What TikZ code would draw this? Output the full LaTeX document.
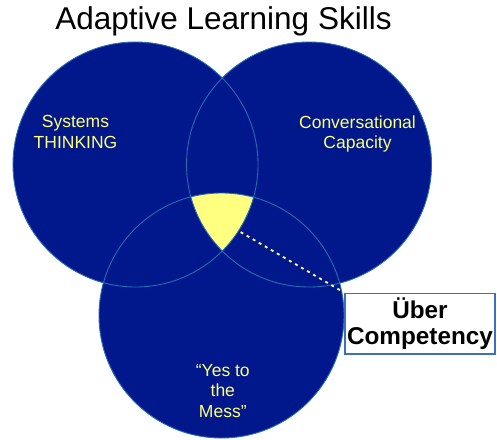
\documentclass[tikz,border=0pt]{standalone}
\usepackage{fontspec}
\setmainfont{Liberation Sans}
\definecolor{setnavy}{RGB}{0,24,140}
\definecolor{setrim}{RGB}{38,110,180}
\definecolor{coreyellow}{RGB}{255,255,128}
\definecolor{labelyellow}{RGB}{255,255,120}
\definecolor{boxblue}{RGB}{60,112,190}
\begin{document}
\begin{tikzpicture}[x=1pt,y=-1pt,
  setdisc/.style={fill=setnavy},
  setedge/.style={draw=setrim, line width=0.9pt},
  setlabel/.style={text=labelyellow, font=\fontsize{17.5}{20.5}\selectfont, align=center, inner sep=0pt},
  calloutbox/.style={draw=boxblue, line width=1.2pt, fill=white, minimum width=150pt,
    minimum height=60.7pt, inner sep=0pt, align=center,
    font=\fontsize{24.3}{26.7}\selectfont\bfseries},
  leader/.style={draw=coreyellow, line width=1.8pt, dash pattern=on 3pt off 4pt}]
\useasboundingbox (0,0) rectangle (497,439);
\fill[white] (0,0) rectangle (497,439);

% centres of the three skill sets
\coordinate (L) at (135.5,164.5);
\coordinate (R) at (309,164.5);
\coordinate (B) at (221.5,315.5);

% filled discs
\fill[setdisc] (L) circle[radius=122.5pt];
\fill[setdisc] (R) circle[radius=122.5pt];
\fill[setdisc] (B) circle[radius=122.5pt];

% common region of all three sets
\begin{scope}
  \clip (L) circle[radius=122.5pt];
  \clip (R) circle[radius=122.5pt];
  \fill[coreyellow] (B) circle[radius=122.5pt];
\end{scope}

% outlines on top
\draw[setedge] (L) circle[radius=122.5pt];
\draw[setedge] (R) circle[radius=122.5pt];
\draw[setedge] (B) circle[radius=122.5pt];

% title
\node[font=\fontsize{31.5}{31.5}\selectfont, anchor=base, inner sep=0pt] (title)
  at (223.5,29.5) {Adaptive Learning Skills};

% set labels
\node[setlabel] (systems) at (75.5,132) {Systems\\THINKING};
\node[setlabel] (conversation) at (357.5,133.9) {Conversational\\Capacity};
\node[setlabel] (mess) at (222.8,391) {“Yes to\\the\\Mess”};

% callout
\coordinate (core) at (222.5,221.5);
\node[calloutbox] (uber) at (420,323.7) {Über\\Competency};
\draw[leader] (core) -- (uber.north west);
\end{tikzpicture}
\end{document}
